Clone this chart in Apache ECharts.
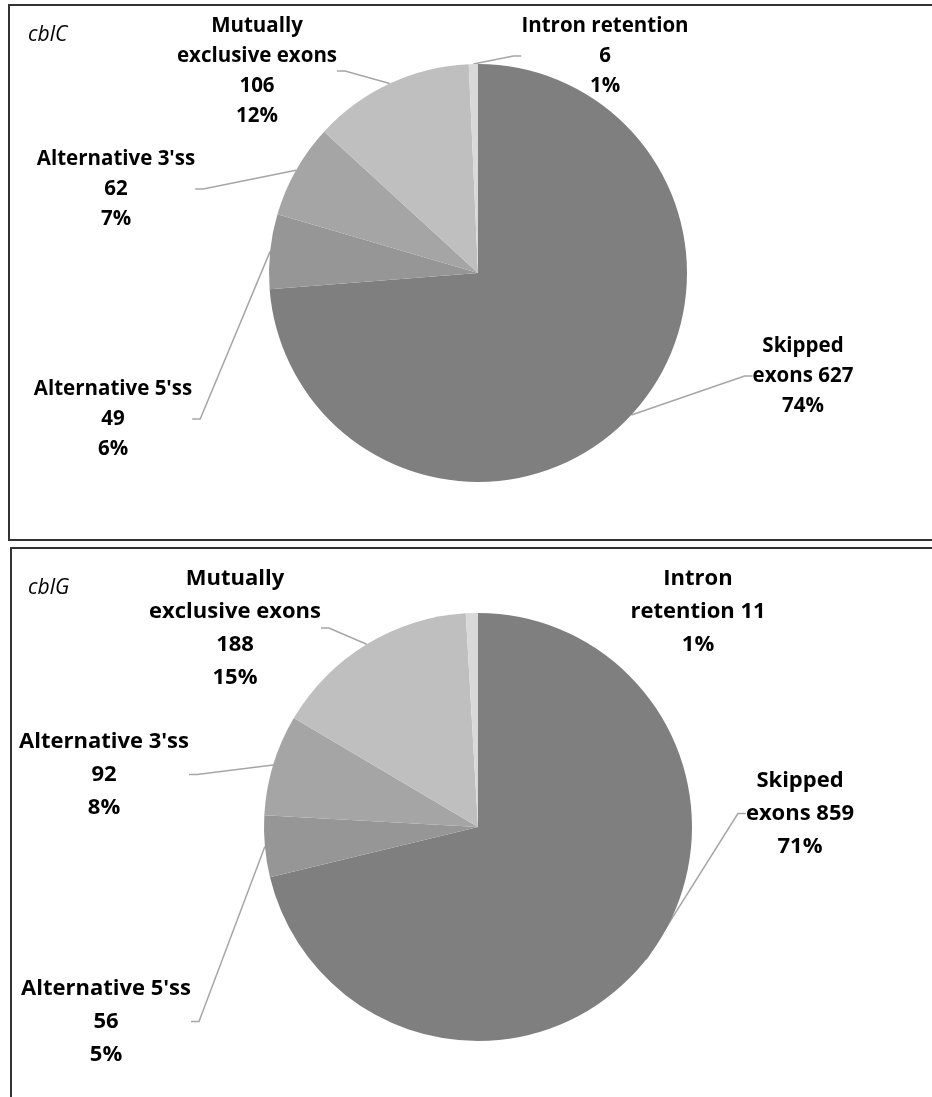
<!DOCTYPE html>
<html>
<head>
<meta charset="utf-8">
<script src="https://cdn.jsdelivr.net/npm/echarts@6/dist/echarts.min.js"></script>
<style>
html,body{margin:0;padding:0;background:#fff;}
#c{width:932px;height:1097px;}
</style>
</head>
<body>
<div id="c"></div>
<script>
// ---- data ----
var categories = ['Skipped exons', "Alternative 5'ss", "Alternative 3'ss", 'Mutually exclusive exons', 'Intron retention'];
var cblCValues = [627, 49, 62, 106, 6];
var cblGValues = [859, 56, 92, 188, 11];
// label name text (as wrapped in the figure)
var cblCLabelNames = ['Skipped\nexons', "Alternative 5'ss\n", "Alternative 3'ss\n", 'Mutually\nexclusive exons\n', 'Intron retention\n'];
var cblGLabelNames = ['Skipped\nexons', "Alternative 5'ss\n", "Alternative 3'ss\n", 'Mutually\nexclusive exons\n', 'Intron\nretention'];
var panelTitles = ['cblC', 'cblG'];

// ---- styling / layout ----
var sliceColors = ['#7f7f7f', '#969696', '#a5a5a5', '#bfbfbf', '#d9d9d9'];
var labelPos = [
  // top panel: [x, y(top)]
  [[803, 331], [113, 374], [116, 144], [257, 11], [605, 11]],
  // bottom panel
  [[800, 764], [106, 972], [104, 725], [235, 562], [698, 562]]
];
var showLine = [
  [true, true, true, true, true],
  [true, true, true, true, false]
];
var FONT = '"Open Sans", Lato, sans-serif';

function buildData(idx, values, names) {
  return values.map(function (v, i) {
    return {
      name: categories[i], value: v, labelName: names[i],
      itemStyle: { color: sliceColors[i] },
      labelLine: { show: showLine[idx][i] }
    };
  });
}

var chart = echarts.init(document.getElementById('c'), null, { renderer: 'canvas' });

function makeSeries(idx, values, names, center, radius, fontSize, lineHeight) {
  return {
    type: 'pie',
    center: center,
    radius: radius,
    startAngle: 90,
    clockwise: true,
    percentPrecision: 0,
    avoidLabelOverlap: false,
    data: buildData(idx, values, names),
    itemStyle: { borderWidth: 0 },
    emphasis: { disabled: true },
    label: {
      show: true,
      position: 'outside',
      color: '#000',
      fontFamily: FONT,
      fontWeight: 'bold',
      fontSize: fontSize,
      lineHeight: lineHeight,
      align: 'center',
      formatter: function (p) {
        var nm = p.data.labelName;
        var sep = nm.charAt(nm.length - 1) === '\n' ? '' : ' ';
        return nm + sep + p.value + '\n' + p.percent + '%';
      }
    },
    labelLine: {
      show: true,
      length: 10,
      length2: 8,
      lineStyle: { color: '#a6a6a6', width: 1.5 }
    },
    labelLayout: function (params) {
      var pos = labelPos[idx][params.dataIndex];
      return { x: pos[0], y: pos[1], align: 'center', verticalAlign: 'top' };
    }
  };
}

var option = {
  backgroundColor: '#fff',
  animation: false,
  graphic: [
    { type: 'rect', shape: { x: 9, y: 5, width: 960, height: 535 }, style: { fill: 'none', stroke: '#333', lineWidth: 2 } },
    { type: 'rect', shape: { x: 11, y: 548, width: 960, height: 600 }, style: { fill: 'none', stroke: '#333', lineWidth: 2 } },
    { type: 'text', left: 28, top: 25, style: { text: panelTitles[0], fontFamily: FONT, fontStyle: 'italic', fontSize: 21, fill: '#000' } },
    { type: 'text', left: 28, top: 578, style: { text: panelTitles[1], fontFamily: FONT, fontStyle: 'italic', fontSize: 21, fill: '#000' } }
  ],
  series: [
    makeSeries(0, cblCValues, cblCLabelNames, [478, 273], 209, 20.5, 30),
    makeSeries(1, cblGValues, cblGLabelNames, [478, 827], 214, 22, 33)
  ]
};
chart.setOption(option);
</script>
</body>
</html>
